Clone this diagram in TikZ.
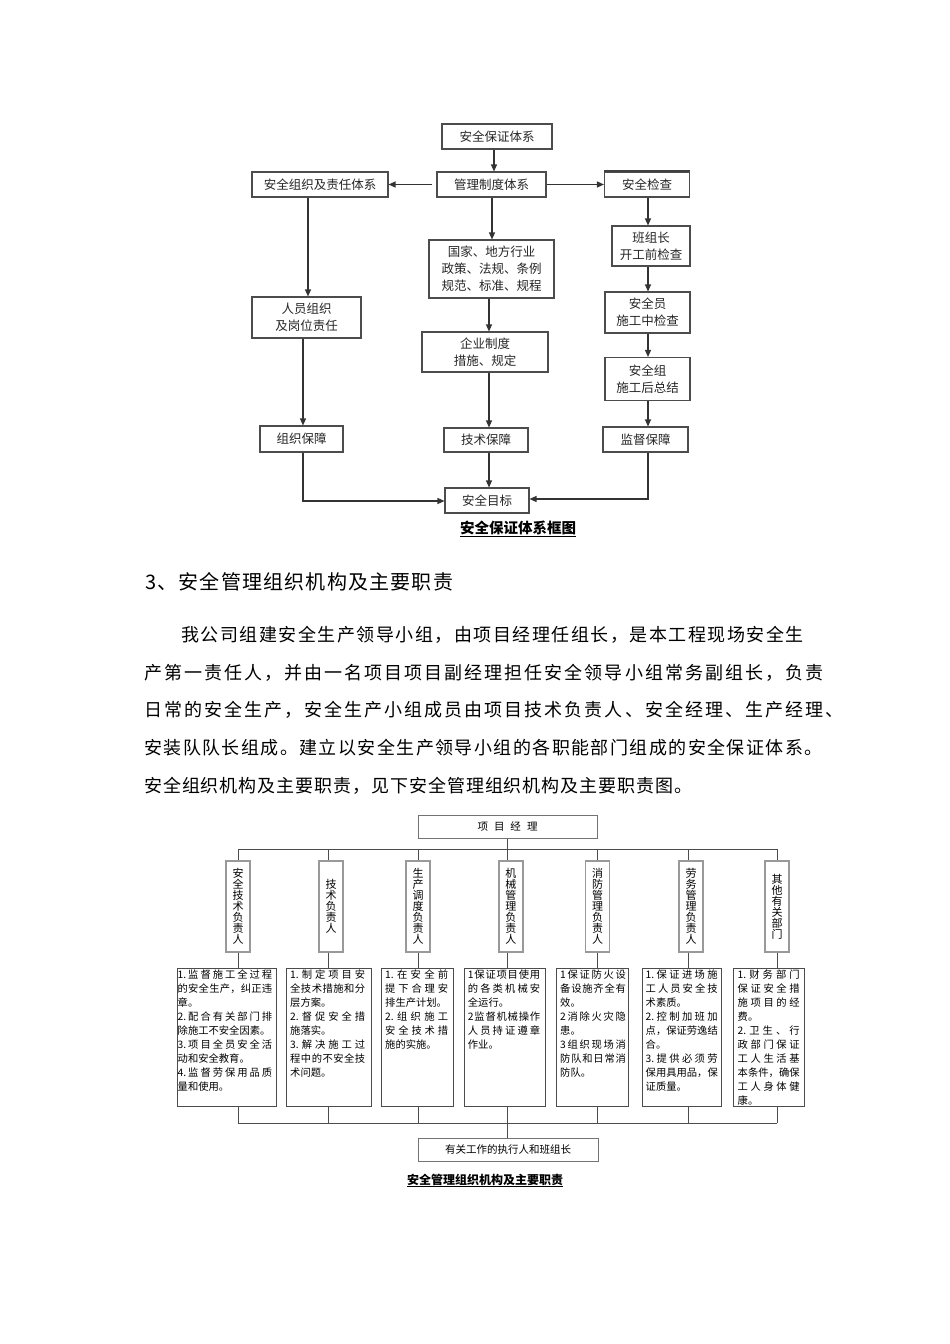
\documentclass[tikz,border=0pt]{standalone}
\usepackage{fontspec}
\setmainfont{Noto Sans CJK SC}
\usetikzlibrary{arrows.meta}
\newlength\Jw
\def\Jend{}
\def\Jendm{\Jend}
\def\Jx#1{\def\Jtmp{#1}\ifx\Jtmp\Jendm\else\hfil#1\expandafter\Jx\fi}
\def\Jfirst#1{#1\Jx}
\newcommand\J[1]{\makebox[\Jw][s]{\Jfirst#1\Jend}}
\tikzset{
  cabox/.style={draw=black!70, line width=1.1pt, inner sep=0pt, align=center,
    font=\fontsize{12.5}{17}\selectfont, text=black!85},
  arr/.style={draw=black!80, line width=1.2pt, -{Triangle[length=7pt,width=6pt]}},
  cbline/.style={draw=black!70, line width=0.9pt},
  vbox/.style={draw=black!40, line width=1.4pt, minimum width=24pt, minimum height=91pt,
    inner sep=0pt, align=center, font=\fontsize{11}{11}\selectfont},
  tbox/.style={draw=black!70, line width=0.9pt, inner sep=0pt, minimum height=138pt},
  ttext/.style={inner sep=0pt, anchor=north west, align=left,
    font=\fontsize{10.3}{14}\selectfont, text width=#1,
    execute at begin node={\setlength{\Jw}{#1}}},
  gbox/.style={draw=black!55, line width=1pt, inner sep=0pt,
    font=\fontsize{10.5}{10.5}\selectfont},
  para/.style={anchor=west, inner sep=0pt,
    font=\fontsize{18}{18}\selectfont\addfontfeature{LetterSpace=#1}},
}
\begin{document}
\begin{tikzpicture}[x=1pt,y=-1pt]
\fill[white] (0,0) rectangle (950,1344);
\useasboundingbox (0,0) rectangle (950,1344);

% ---------- chart 1 ----------
\node[cabox, minimum width=110pt, minimum height=25pt] (sys) at (497,136.5) {安全保证体系};
\node[cabox, minimum width=109pt, minimum height=25pt] (mgmt) at (491.5,184.5) {管理制度体系};
\node[cabox, minimum width=136pt, minimum height=25pt] (org) at (320,184.5) {安全组织及责任体系};
\node[cabox, minimum width=85pt, minimum height=25pt] (chk) at (647,184.5) {安全检查};
\node[cabox, minimum width=125pt, minimum height=58pt] (nat) at (491.5,269) {国家、地方行业\\政策、法规、条例\\规范、标准、规程};
\node[cabox, minimum width=78pt, minimum height=40pt] (bzz) at (651,246) {班组长\\开工前检查};
\node[cabox, minimum width=85pt, minimum height=41pt] (aqy) at (647.5,312.5) {安全员\\施工中检查};
\node[cabox, minimum width=85pt, minimum height=43pt] (aqz) at (647.5,379) {安全组\\施工后总结};
\node[cabox, minimum width=85pt, minimum height=25pt] (jd) at (645.5,439.5) {监督保障};
\node[cabox, minimum width=109pt, minimum height=41pt] (ry) at (306.5,317.5) {人员组织\\及岗位责任};
\node[cabox, minimum width=126pt, minimum height=40pt] (qy) at (485,352) {企业制度\\措施、规定};
\node[cabox, minimum width=83pt, minimum height=26pt] (zz) at (301.5,439) {组织保障};
\node[cabox, minimum width=84pt, minimum height=24pt] (js) at (486,440) {技术保障};
\node[cabox, minimum width=84pt, minimum height=25pt] (mb) at (487,500.5) {安全目标};
\draw[line width=2pt, black!75] (chk.north west) -- (chk.north east);

\coordinate (cL1) at (308,0);
\coordinate (cL2) at (303,0);
\coordinate (cM1) at (494,0);
\coordinate (cM1b) at (492,0);
\coordinate (cM2) at (489,0);
\coordinate (cR) at (648,0);
\coordinate (yL) at (0,501);
\coordinate (yR) at (0,499);

\draw[arr] (sys.south -| cM1) -- (mgmt.north -| cM1);
\draw[arr] ([xshift=-4pt]mgmt.west) -- (org.east);
\draw[arr] (mgmt.east) -- (chk.west);
\draw[arr] (mgmt.south -| cM1b) -- (nat.north -| cM1b);
\draw[arr] (nat.south -| cM2) -- (qy.north -| cM2);
\draw[arr] (qy.south -| cM2) -- (js.north -| cM2);
\draw[arr] (js.south -| cM2) -- (mb.north -| cM2);
\draw[arr] (org.south -| cL1) -- (ry.north -| cL1);
\draw[arr] (ry.south -| cL2) -- (zz.north -| cL2);
\draw[arr] (zz.south -| cL2) |- (mb.west |- yL);
\draw[arr] (chk.south -| cR) -- (bzz.north -| cR);
\draw[arr] (bzz.south -| cR) -- (aqy.north -| cR);
\draw[arr] (aqy.south -| cR) -- (aqz.north -| cR);
\draw[arr] (aqz.south -| cR) -- (jd.north -| cR);
\draw[arr] (jd.south -| cR) |- (mb.east |- yR);

\node[inner sep=0pt, font=\bfseries\fontsize{14.5}{14.5}\selectfont] (cap1) at (518,527.5) {安全保证体系框图};
\draw[line width=0.8pt] ([yshift=-1.5pt]cap1.south west) -- ([yshift=-1.5pt]cap1.south east);

% ---------- text ----------
\node[anchor=west, inner sep=0pt, font=\fontsize{20}{20}\selectfont\addfontfeature{LetterSpace=6}] (head) at (145,582) {3、安全管理组织机构及主要职责};
\node[para=8.3] (p1) at (181,635) {我公司组建安全生产领导小组，由项目经理任组长，是本工程现场安全生};
\node[para=11.3] (p2) at (144,673) {产第一责任人，并由一名项目项目副经理担任安全领导小组常务副组长，负责};
\node[para=11.3] (p3) at (144,710) {日常的安全生产，安全生产小组成员由项目技术负责人、安全经理、生产经理、};
\node[para=7.9] (p4) at (144,748) {安装队队长组成。建立以安全生产领导小组的各职能部门组成的安全保证体系。};
\node[para=5.2] (p5) at (144,786) {安全组织机构及主要职责，见下安全管理组织机构及主要职责图。};

% ---------- chart 2 ----------
\node[gbox, minimum width=179pt, minimum height=23pt] (pm) at (507.5,826.5) {项\hspace{6pt}目\hspace{6pt}经\hspace{6pt}理};
\node[vbox] (v1) at (238,906.5) {安\\全\\技\\术\\负\\责\\人};
\node[vbox] (v2) at (331,906.5) {技\\术\\负\\责\\人};
\node[vbox] (v3) at (418,906.5) {生\\产\\调\\度\\负\\责\\人};
\node[vbox] (v4) at (510.8,906.5) {机\\械\\管\\理\\负\\责\\人};
\node[vbox] (v5) at (597.5,906.5) {消\\防\\管\\理\\负\\责\\人};
\node[vbox] (v6) at (691,906.5) {劳\\务\\管\\理\\负\\责\\人};
\node[vbox] (v7) at (777,906.5) {其\\他\\有\\关\\部\\门};

\node[tbox, minimum width=99pt] (t1) at (226.5,1037) {};
\node[tbox, minimum width=85pt] (t2) at (328.5,1037) {};
\node[tbox, minimum width=72pt] (t3) at (417,1037) {};
\node[tbox, minimum width=81pt] (t4) at (504.5,1037) {};
\node[tbox, minimum width=72pt] (t5) at (592,1037) {};
\node[tbox, minimum width=79pt] (t6) at (681.5,1037) {};
\node[tbox, minimum width=71pt] (t7) at (768.5,1037) {};

\node[ttext=94.5pt] (x1) at (177.5,970) {\J{{1.}监督施工全过程}\\\J{的安全生产，纠正违}\\章。\\\J{{2.}配合有关部门排}\\除施工不安全因素。\\\J{{3.}项目全员安全活}\\动和安全教育。\\\J{{4.}监督劳保用品质}\\量和使用。};
\node[ttext=75pt] (x2) at (290,970) {\J{{1.}制定项目安}\\\J{全技术措施和分}\\层方案。\\\J{{2.}督促安全措}\\施落实。\\\J{{3.}解决施工过}\\\J{程中的不安全技}\\术问题。};
\node[ttext=63pt] (x3) at (385,970) {\J{{1.}在安全前}\\\J{提下合理安}\\排生产计划。\\\J{{2.}组织施工}\\\J{安全技术措}\\施的实施。};
\node[ttext=72.3pt] (x4) at (467.7,970) {\J{1保证项目使用}\\\J{的各类机械安}\\全运行。\\\J{2监督机械操作}\\\J{人员持证遵章}\\作业。};
\node[ttext=65.7pt] (x5) at (560,970) {\J{1保证防火设}\\\J{备设施齐全有}\\效。\\\J{2消除火灾隐}\\患。\\\J{3组织现场消}\\\J{防队和日常消}\\防队。};
\node[ttext=72pt] (x6) at (645.5,970) {\J{{1.}保证进场施}\\\J{工人员安全技}\\术素质。\\\J{{2.}控制加班加}\\\J{点，保证劳逸结}\\合。\\\J{{3.}提供必须劳}\\\J{保用具用品，保}\\证质量。};
\node[ttext=62pt] (x7) at (737.5,970) {\J{{1.}财务部门}\\\J{保证安全措}\\\J{施项目的经}\\费。\\\J{{2.}卫生、行}\\\J{政部门保证}\\\J{工人生活基}\\\J{本条件，确保}\\\J{工人身体健}\\康。};

\node[gbox, minimum width=180pt, minimum height=23pt] (ex) at (508,1149.5) {有关工作的执行人和班组长};

\coordinate (busT) at (0,849);
\coordinate (busB) at (0,1123);
\coordinate (s1) at (238,0);
\coordinate (s2) at (328,0);
\coordinate (s3) at (418,0);
\coordinate (s4) at (507,0);
\coordinate (s5) at (597,0);
\coordinate (s6) at (688,0);
\coordinate (s7) at (777,0);

\draw[cbline] (pm.south -| s4) -- (s4 |- busT);
\draw[cbline] (s1 |- busT) -- (s7 |- busT);
\foreach \i in {1,...,7} {
  \draw[cbline] (s\i |- busT) -- (v\i.north -| s\i);
  \draw[cbline] (v\i.south -| s\i) -- (t\i.north -| s\i);
  \draw[cbline] (t\i.south -| s\i) -- (s\i |- busB);
}
\draw[cbline] (s1 |- busB) -- (s7 |- busB);
\draw[cbline] (s4 |- busB) -- (ex.north -| s4);

\node[inner sep=0pt, font=\bfseries\fontsize{12}{12}\selectfont] (cap2) at (485,1179.5) {安全管理组织机构及主要职责};
\draw[line width=0.7pt] ([yshift=-1.3pt]cap2.south west) -- ([yshift=-1.3pt]cap2.south east);
\end{tikzpicture}
\end{document}
